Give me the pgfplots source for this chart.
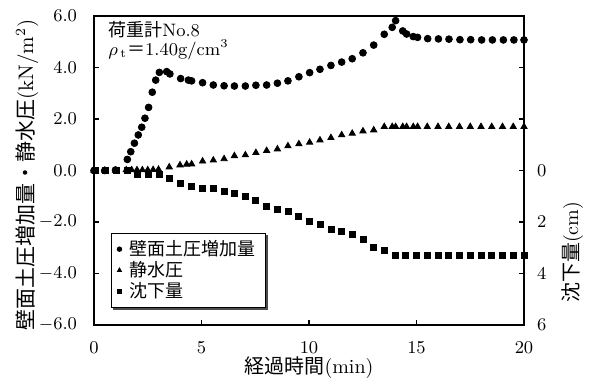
\documentclass[border=0pt]{standalone}
\usepackage{pgfplots}
\pgfplotsset{compat=1.18}
\usepackage{fontspec}
\newfontfamily\jp{Noto Sans CJK JP}
\usetikzlibrary{shadows}
\begin{document}
\begin{tikzpicture}
\begin{axis}[
  scale only axis, width=215pt, height=154.5pt,
  at={(0,0)}, anchor=south west,
  xmin=0, xmax=20, ymin=-6, ymax=6,
  xtick={0,5,10,15,20}, ytick={-6,-4,-2,0,2,4,6},
  tick align=inside, xtick pos=left, ytick pos=both, yticklabel pos=left,
  major tick length=2.5pt,
  axis line style={line width=0.9pt},
  every tick/.style={line width=0.6pt, black},
  yticklabel style={/pgf/number format/fixed, /pgf/number format/fixed zerofill, /pgf/number format/precision=1,
     font=\fontsize{9}{11}\selectfont, xshift=-5pt},
  xticklabel style={font=\fontsize{9}{11}\selectfont, yshift=-5pt},
  xlabel={{\jp 経過時間}(min)},
  xlabel style={font=\fontsize{10}{12}\selectfont, at={(axis description cs:0.5,-0.139)}, anchor=center},
  ylabel={{\jp 壁面土圧増加量・静水圧}(kN/m$^2$)},
  ylabel style={font=\fontsize{10.5}{12}\selectfont, at={(axis description cs:-0.156,0.485)}, anchor=center},
  legend style={at={(axis description cs:0.039,0.055)}, anchor=south west, draw=black, line width=0.5pt, fill=white,
    font=\fontsize{9}{11}\selectfont, inner xsep=3pt, inner ysep=1.5pt, row sep=-2.5pt, column sep=2pt,
    drop shadow={shadow xshift=1pt, shadow yshift=-1pt, fill=black!70, opacity=1}},
  legend cell align=left,
  legend image post style={mark size=1.1pt},
]
\addplot[only marks, mark=*, mark size=1.7pt, black] coordinates {
(0,0) (0.5,0) (1.0,0.02)
(1.55,0.43) (1.71,0.73) (1.88,1.06) (2.06,1.38) (2.22,1.68) (2.37,2.03) (2.54,2.45) (2.71,3.04) (2.87,3.51) (3.04,3.81)
(3.38,3.84) (3.53,3.75) (4.03,3.57) (4.39,3.51) (4.54,3.48) (5.05,3.41) (5.55,3.32) (6.05,3.29) (6.53,3.28) (7.04,3.28)
(7.53,3.31) (8.03,3.32) (8.53,3.39) (9.02,3.48) (9.53,3.64) (10.03,3.80) (10.51,3.93) (11.02,4.08) (11.52,4.21) (12.01,4.34)
(12.51,4.57) (13.01,4.87) (13.50,5.29) (13.87,5.56) (14.03,5.82) (14.36,5.42) (14.54,5.30) (14.85,5.20) (15.05,5.17)
(15.52,5.12) (16.02,5.11) (16.51,5.10) (17.02,5.08) (17.52,5.08) (18.03,5.07) (18.53,5.07) (19.04,5.07) (19.53,5.07) (20.0,5.07)
};
\addplot[only marks, mark=triangle*, mark size=1.8pt, black] coordinates {
(0,0) (0.5,0) (1.0,0) (1.5,0.02) (1.75,0.02) (2.0,0.02) (2.25,0.02) (2.5,0.02) (2.75,0.03) (3.0,0.04)
(3.5,0.13) (4.0,0.21) (4.31,0.24) (4.54,0.25) (5.05,0.36) (5.55,0.40) (6.05,0.45) (6.53,0.57) (7.04,0.60) (7.53,0.69)
(8.03,0.77) (8.53,0.83) (9.02,0.95) (9.53,1.03) (10.03,1.09) (10.51,1.18) (11.02,1.27) (11.52,1.38) (12.01,1.44) (12.51,1.53)
(13.01,1.57) (13.50,1.70) (13.87,1.70) (14.03,1.70) (14.36,1.70) (14.54,1.70) (14.85,1.70) (15.05,1.70)
(15.5,1.70) (16.0,1.70) (16.5,1.70) (17.0,1.70) (17.5,1.70) (18.0,1.70) (18.5,1.70) (19.0,1.70) (19.5,1.70) (20.0,1.70)
};
\addplot[only marks, mark=square*, mark size=1.5pt, black] coordinates {
(0.05,0) (0.51,0) (1.05,0) (1.55,0) (2.03,-0.16) (2.53,-0.16) (3.02,-0.16) (3.53,-0.30) (4.03,-0.50) (4.54,-0.60)
(5.05,-0.69) (5.55,-0.69) (6.05,-0.80) (6.53,-0.89) (7.04,-0.99) (7.53,-1.18) (8.03,-1.38) (8.53,-1.50) (9.02,-1.57) (9.53,-1.79)
(10.03,-1.99) (10.51,-2.08) (11.02,-2.28) (11.52,-2.38) (12.01,-2.47) (12.51,-2.67) (13.01,-2.98) (13.50,-3.09)
(14.0,-3.28) (14.5,-3.28) (15.0,-3.28) (15.5,-3.28) (16.0,-3.28) (16.5,-3.28) (17.0,-3.28) (17.5,-3.28) (18.0,-3.28) (18.5,-3.28) (19.0,-3.28) (19.5,-3.28) (20.0,-3.28)
};
\legend{{\jp 壁面土圧増加量},{\jp 静水圧},{\jp 沈下量}}
\node[anchor=west, font=\fontsize{9}{11}\selectfont, inner sep=0pt] at (axis cs:0.65,5.46) {{\jp 荷重計}No.8};
\node[anchor=west, font=\fontsize{9}{11}\selectfont, inner sep=0pt] at (axis cs:0.65,4.68) {$\rho_{\,\mathrm{t}}${\jp ＝}1.40g/cm$^3$};
\end{axis}
\begin{axis}[
  scale only axis, width=215pt, height=154.5pt,
  at={(0,0)}, anchor=south west,
  xmin=0, xmax=20, ymin=-6, ymax=6, y dir=reverse,
  axis x line=none, axis y line*=right,
  axis line style={draw=none},
  ytick={0,2,4,6}, major tick length=0pt,
  yticklabel style={font=\fontsize{9}{11}\selectfont, xshift=3pt},
  ylabel={{\jp 沈下量}(cm)},
  ylabel style={font=\fontsize{10}{12}\selectfont, at={(axis description cs:1.112,0.235)}, anchor=center},
]
\end{axis}
\pgfresetboundingbox
\path (-47pt,-27.5pt) rectangle (247.5pt,162.5pt);
\end{tikzpicture}
\end{document}
